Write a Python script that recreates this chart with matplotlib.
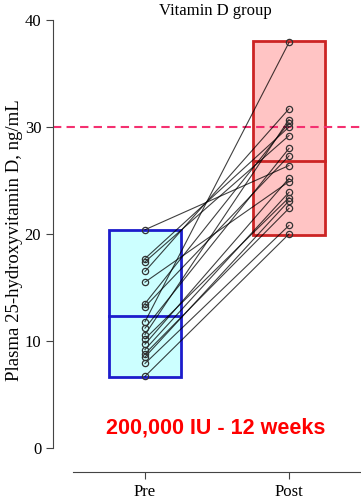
import numpy as np
import matplotlib
matplotlib.use("Agg")
import matplotlib.pyplot as plt
from matplotlib.patches import Rectangle

# paired values, ng/mL
pre = [20.4, 17.7, 17.4, 16.5, 15.5, 13.5, 13.2, 11.8, 11.2, 10.6, 10.2, 9.7, 9.2, 8.8, 8.5, 7.9, 6.7]
post = [26.4, 30.0, 29.2, 31.7, 24.9, 30.4, 27.3, 37.9, 28.0, 30.7, 23.4, 25.2, 23.9, 22.4, 23.1, 20.8, 20.0]

groups = ["Pre", "Post"]
box_low = [6.6, 19.9]
box_high = [20.4, 38.0]
box_mid = [12.3, 26.8]
box_face = ["#ccffff", "#ffc4c4"]
box_edge = ["#1c1ccc", "#cc2424"]
target = 30

plt.rcParams['font.family'] = ['Liberation Serif', 'DejaVu Serif']

fig = plt.figure(figsize=(3.61, 5.01), dpi=100)
ax = fig.add_axes([53/361, 53/501, 308/361, 428/501])

xs = [1, 2]
w = 0.5
for i in range(2):
    ax.add_patch(Rectangle((xs[i]-w/2, box_low[i]), w, box_high[i]-box_low[i],
                           facecolor=box_face[i], edgecolor=box_edge[i], lw=2, zorder=1))
    ax.plot([xs[i]-w/2, xs[i]+w/2], [box_mid[i], box_mid[i]], color=box_edge[i], lw=2, zorder=2)

for a, b in zip(pre, post):
    ax.plot([1, 2], [a, b], color='k', lw=0.8, alpha=0.75, zorder=3)
ax.plot([1]*len(pre), pre, 'o', ms=4.5, mfc='none', mec='#333333', mew=0.9, zorder=4)
ax.plot([2]*len(post), post, 'o', ms=4.5, mfc='none', mec='#333333', mew=0.9, zorder=4)

ax.axhline(target, color='#f43070', ls=(0, (4, 2.5)), lw=1.5, zorder=2)

ax.set_xlim(1 - 92/144, 2 + 72/144)
ax.set_ylim(0, 40)
ax.set_yticks([0, 10, 20, 30, 40])
ax.set_xticks(xs)
ax.set_xticklabels(groups)
ax.tick_params(labelsize=12, color='#444444', length=5)
ax.spines['top'].set_visible(False)
ax.spines['right'].set_visible(False)
ax.spines['left'].set_color('#444444')
ax.spines['bottom'].set_color('#444444')
ax.spines['bottom'].set_position(('outward', 17.3))
ax.spines['bottom'].set_bounds(0.5, 2.5)

fig.text(215/361, 1 - 11/501, "Vitamin D group", ha='center', va='center', fontsize=12)
fig.text(15/361, 1 - 240/501, "Plasma 25-hydroxyvitamin D, ng/mL", rotation=90,
         ha='center', va='center', fontsize=13.5)
fig.text(216/361, 1 - 428/501, "200,000 IU - 12 weeks", ha='center', va='center',
         fontsize=15.5, fontweight='bold', color='#ff0000', family=['Liberation Sans', 'DejaVu Sans'])

plt.savefig("out.png", dpi=100)
plt.close()
